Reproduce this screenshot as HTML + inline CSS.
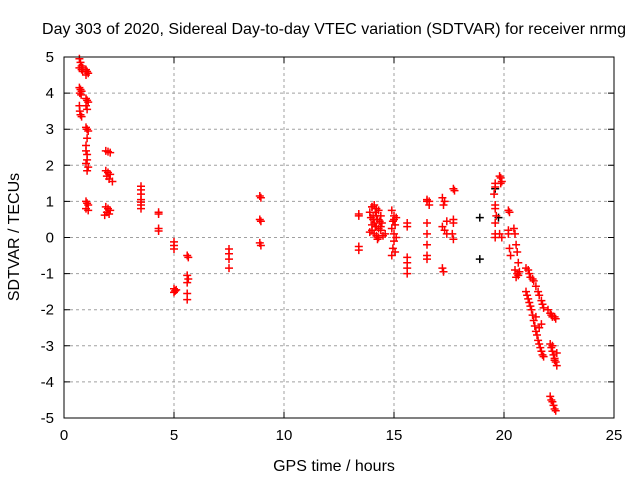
<!DOCTYPE html>
<html><head><meta charset="utf-8"><style>
body{margin:0;background:#fff}
svg text{font-family:"Liberation Sans",sans-serif;font-size:16px;fill:#000}
svg text.tk{font-size:15px}
</style></head><body>
<svg id="chart" width="640" height="480" viewBox="0 0 640 480">
<text x="334" y="34" text-anchor="middle">Day 303 of 2020, Sidereal Day-to-day VTEC variation (SDTVAR) for receiver nrmg</text>
<text x="334" y="471" text-anchor="middle">GPS time / hours</text>
<text transform="translate(19,237) rotate(-90)" text-anchor="middle">SDTVAR / TECUs</text>
<g id="grid"></g><g id="ticks"></g><g id="marks"></g>
<rect x="64" y="57" width="550" height="361" fill="none" stroke="#000" stroke-width="1"/>
</svg>
<script>
const xTicks=[0,5,10,15,20,25];
const yTicks=[-5,-4,-3,-2,-1,0,1,2,3,4,5];
const redTimes=[0.7,0.75,0.8,0.7,0.85,0.8,0.85,1.0,1.05,1.1,1.0,
0.7,0.75,0.8,0.72,0.78,1.0,1.05,1.1,1.0,1.05,0.7,0.72,0.75,0.8,
1.0,1.05,1.1,1.05,1.0,1.0,1.05,1.05,1.0,1.1,1.05,
1.9,2.0,2.1,1.9,2.0,2.1,1.95,2.05,2.2,1.0,1.05,1.1,1.0,1.1,1.9,2.0,2.1,1.95,2.05,1.85,
3.5,3.5,3.5,3.5,3.5,3.5,3.5,4.3,4.3,4.3,4.3,5.0,5.0,5.0,5.0,5.05,5.1,5.0,
5.6,5.65,5.6,5.65,5.6,5.6,5.6,7.5,7.5,7.5,7.5,8.9,8.95,8.9,8.95,8.9,8.95,
13.4,13.4,13.4,13.4,
13.9,14.0,14.1,14.2,14.3,14.4,13.95,14.05,14.15,14.25,14.35,14.45,14.0,14.1,14.2,14.3,14.4,13.9,14.0,14.1,14.2,14.3,14.5,14.05,14.15,14.25,14.0,14.2,14.4,14.6,
14.9,15.0,15.1,14.95,15.05,14.9,15.0,15.1,15.0,14.95,15.05,14.9,15.0,
15.6,15.6,15.6,15.6,15.6,15.6,16.5,16.5,16.5,16.5,16.5,16.5,16.5,16.6,16.6,
17.2,17.3,17.25,17.2,17.3,17.2,17.25,17.4,17.4,17.7,17.75,17.7,17.7,17.65,17.7,
19.6,19.6,19.55,19.6,19.6,19.65,19.6,19.6,19.6,19.8,19.85,19.9,19.85,19.8,19.9,
20.2,20.25,20.2,20.2,20.25,20.3,20.5,20.6,20.55,20.65,20.7,20.45,20.5,20.55,20.6,20.65,
21.0,21.1,21.15,21.2,21.3,21.35,21.45,21.55,21.6,21.7,21.75,21.8,22.0,22.1,22.15,22.2,22.3,22.35,
21.0,21.05,21.1,21.15,21.2,21.25,21.3,21.35,21.4,21.45,21.5,21.55,21.6,21.65,21.7,21.75,21.8,21.45,21.6,21.7,
22.1,22.15,22.2,22.25,22.3,22.35,22.4,22.4,22.2,22.3,
22.1,22.15,22.2,22.25,22.3,22.35];
const redValues=[4.95,4.85,4.75,4.7,4.7,4.65,4.6,4.65,4.6,4.55,4.5,
4.15,4.1,4.05,4.0,3.95,3.85,3.8,3.75,3.65,3.55,3.65,3.5,3.4,3.35,
3.05,3.0,2.95,2.75,2.55,2.4,2.3,2.15,2.05,1.95,1.85,
2.4,2.38,2.35,1.85,1.8,1.75,1.7,1.62,1.55,1.0,0.95,0.9,0.8,0.75,0.85,0.8,0.75,0.7,0.65,0.62,
1.42,1.32,1.2,1.05,0.98,0.9,0.8,0.7,0.65,0.25,0.18,-0.12,-0.22,-0.32,-1.42,-1.48,-1.45,-1.52,
-0.5,-0.55,-1.05,-1.15,-1.25,-1.55,-1.72,-0.32,-0.45,-0.6,-0.85,1.15,1.1,0.5,0.45,-0.15,-0.22,
0.65,0.6,-0.25,-0.35,
0.7,0.85,0.9,0.8,0.75,0.6,0.55,0.6,0.7,0.5,0.45,0.4,0.35,0.4,0.3,0.25,0.2,0.15,0.2,0.1,0.05,0.0,0.05,0.5,0.3,-0.05,0.85,0.6,0.3,0.1,
0.75,0.6,0.55,0.45,0.35,0.25,0.1,0.0,-0.1,-0.3,-0.4,-0.5,0.5,
0.4,0.3,-0.55,-0.7,-0.85,-1.0,1.05,1.0,0.4,0.1,-0.2,-0.5,-0.6,1.0,0.9,
1.1,1.0,0.9,0.3,0.2,-0.85,-0.95,0.45,0.1,1.35,1.3,0.5,0.4,0.1,-0.05,
1.5,1.4,1.2,0.9,0.8,0.6,0.4,0.1,0.0,1.7,1.65,1.55,1.5,0.1,0.0,
0.75,0.7,0.2,0.1,-0.3,-0.5,-0.9,-1.0,-1.1,-1.05,-0.95,0.25,0.1,-0.2,-0.4,-0.7,
-0.85,-0.9,-1.0,-1.1,-1.15,-1.2,-1.35,-1.5,-1.6,-1.75,-1.85,-1.95,-2.0,-2.1,-2.15,-2.2,-2.2,-2.25,
-1.5,-1.6,-1.7,-1.8,-1.9,-2.0,-2.15,-2.3,-2.45,-2.6,-2.7,-2.85,-2.95,-3.05,-3.15,-3.25,-3.3,-2.2,-2.5,-2.4,
-2.95,-3.05,-3.15,-3.25,-3.35,-3.45,-3.55,-3.2,-3.0,-3.4,
-4.4,-4.5,-4.55,-4.65,-4.75,-4.8];
const blackTimes=[18.9,18.9,19.6,19.75];
const blackValues=[0.55,-0.6,1.35,0.55];
const X0=64,X1=614,Y0=418,Y1=57;
const xs=t=>X0+(t-0)/25*(X1-X0);
const ys=v=>Y0-(v+5)/10*(Y0-Y1);
const NS='http://www.w3.org/2000/svg';
function mk(tag,attrs,parent){const e=document.createElementNS(NS,tag);for(const k in attrs)e.setAttribute(k,attrs[k]);document.getElementById(parent).appendChild(e);return e;}
xTicks.forEach(t=>{const x=xs(t);
 if(t>0&&t<25){const g=mk('line',{x1:x,y1:Y0,x2:x,y2:Y1,stroke:'#a0a0a0','stroke-dasharray':'3,3'},'grid');
 
 }
 const tk=mk('path',{d:`M${x},${Y0}v-6M${x},${Y1}v6`,stroke:'#000'},'ticks');
 
 
 const l=mk('text',{x:x,y:Y0+22,'text-anchor':'middle','class':'tk'},'ticks');l.textContent=t;
 
 });
yTicks.forEach(v=>{const y=ys(v);
 if(v>-5&&v<5){const g=mk('line',{x1:X0,y1:y,x2:X1,y2:y,stroke:'#a0a0a0','stroke-dasharray':'3,3'},'grid');
 
 }
 const tk=mk('path',{d:`M${X0},${y}h6M${X1},${y}h-6`,stroke:'#000'},'ticks');
 
 
 const l=mk('text',{x:X0-10,y:y+5,'text-anchor':'end','class':'tk'},'ticks');l.textContent=v;
 
 });
function plus(t,v,c,name){const x=xs(t),y=ys(v);
 const p=mk('path',{d:`M${x-4},${y}h8M${x},${y-4}v8`,stroke:c,'stroke-width':1.5},'marks');
 
 }
blackTimes.forEach((t,i)=>plus(t,blackValues[i],'#000','black-point'));
redTimes.forEach((t,i)=>plus(t,redValues[i],'#ff0000','sdtvar-point'));
</script>
</body></html>
